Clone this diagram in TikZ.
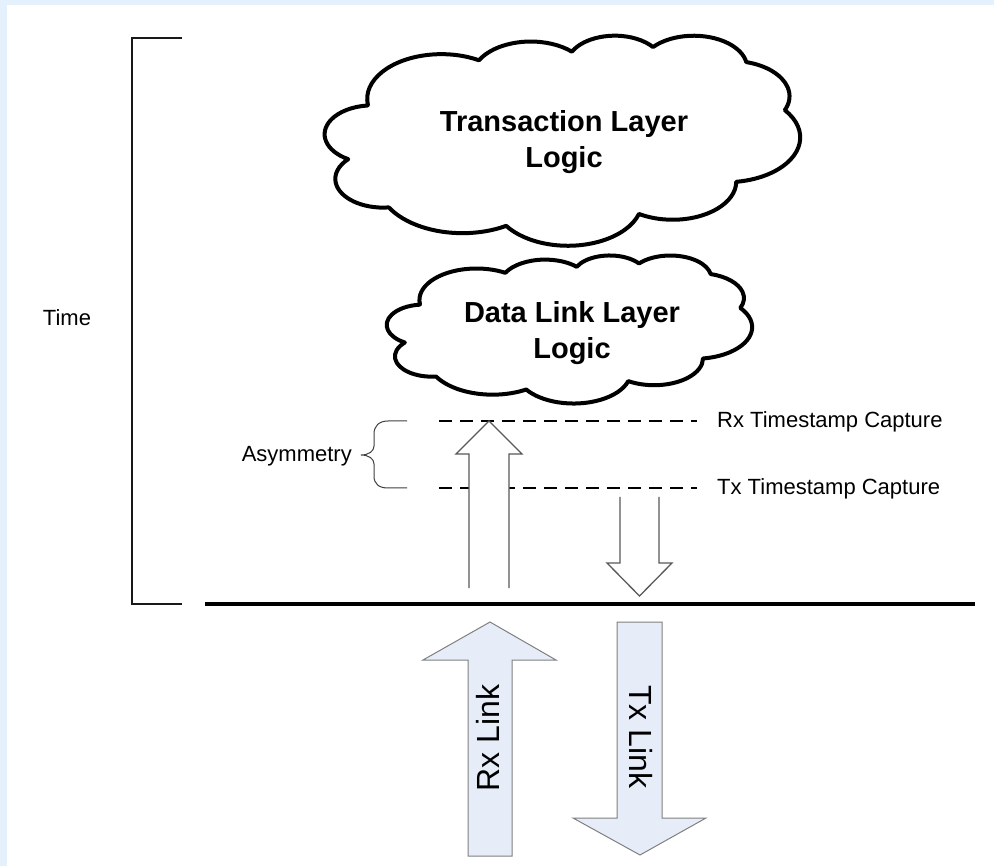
\documentclass[tikz,border=0pt]{standalone}
\usepackage{fontspec}
\setmainfont{Liberation Sans}
\definecolor{bandblue}{HTML}{E4F1FD}
\definecolor{linkfill}{HTML}{E6EDF8}
\newcommand\cldcalc[5]{%
  \pgfmathsetmacro\cldtmpa{atan2((#2)*sin(#4),(#3)*cos(#4))}%
  \pgfmathsetmacro\cldtmpb{atan2((#2)*sin((#4)+(#5)),(#3)*cos((#4)+(#5)))}%
  \pgfmathsetmacro\cldtmpd{mod(\cldtmpb-\cldtmpa+720,360)}%
  \expandafter\xdef\csname cldS#1\endcsname{\cldtmpa}%
  \expandafter\xdef\csname cldD#1\endcsname{\cldtmpd}%
}
\cldcalc{a}{67.53}{91.90}{-190.4875}{123.7805}
\cldcalc{b}{53.33}{72.67}{-144.1024}{89.9452}
\cldcalc{c}{43.65}{59.45}{-145.8079}{99.7230}
\cldcalc{d}{48.57}{65.95}{-130.9861}{117.2417}
\cldcalc{e}{53.33}{72.73}{-78.7089}{109.0269}
\cldcalc{f}{67.75}{92.20}{-46.2673}{130.2690}
\cldcalc{g}{57.85}{78.67}{0.6250}{114.0333}
\cldcalc{h}{67.52}{92.15}{22.4516}{115.1726}
\cldcalc{i}{77.20}{105.43}{66.2426}{75.7110}
\cldcalc{j}{43.60}{59.18}{-274.9421}{146.7356}
\cldcalc{k}{43.45}{59.45}{-246.8285}{152.5189}
\newcommand\drawcloud[4]{% left, top, width, height
  \pgfmathsetmacro\cldw{#3/432}%
  \pgfmathsetmacro\cldh{#4/432}%
  \begin{scope}[shift={(#1,#2)}, x=\cldw pt, y=-\cldh pt]
    \draw[cloudline] (39,143.7)
      arc[start angle=\cldSa, delta angle=\cldDa, x radius=67.53, y radius=91.90]
      arc[start angle=\cldSb, delta angle=\cldDb, x radius=53.33, y radius=72.67]
      arc[start angle=\cldSc, delta angle=\cldDc, x radius=43.65, y radius=59.45]
      arc[start angle=\cldSd, delta angle=\cldDd, x radius=48.57, y radius=65.95]
      arc[start angle=\cldSe, delta angle=\cldDe, x radius=53.33, y radius=72.73]
      arc[start angle=\cldSf, delta angle=\cldDf, x radius=67.75, y radius=92.20]
      arc[start angle=\cldSg, delta angle=\cldDg, x radius=57.85, y radius=78.67]
      arc[start angle=\cldSh, delta angle=\cldDh, x radius=67.52, y radius=92.15]
      arc[start angle=\cldSi, delta angle=\cldDi, x radius=77.20, y radius=105.43]
      arc[start angle=\cldSj, delta angle=\cldDj, x radius=43.60, y radius=59.18]
      arc[start angle=\cldSk, delta angle=\cldDk, x radius=43.45, y radius=59.45]
      -- cycle;
  \end{scope}}
\begin{document}
\begin{tikzpicture}[x=1pt,y=-1pt,
  cloudline/.style={draw=black, line width=4pt, fill=white, line join=round},
  cloudtext/.style={font=\fontsize{29}{36}\selectfont\bfseries, align=center, inner sep=0pt},
  smalltext/.style={font=\fontsize{22}{26}\selectfont, inner sep=0pt},
  linktext/.style={font=\fontsize{32}{38}\selectfont, inner sep=0pt},
  dashline/.style={draw=black, line width=1.5pt, dash pattern=on 13pt off 8pt},
  hollowarrow/.style={draw=black!65, fill=white, line width=1.3pt, line join=miter},
  bigarrow/.style={draw=black!50, fill=linkfill, line width=1pt, line join=miter},
  bracketline/.style={draw=black!90, line width=1.4pt},
  baseline/.style={draw=black, line width=4pt},
  bracestyle/.style={draw=black!75, line width=1pt},
]
\useasboundingbox (0,0) rectangle (994,866);
\fill[white] (0,0) rectangle (994,866);
\fill[bandblue] (0,0) rectangle (994,5);
\fill[bandblue] (0,0) rectangle (7,866);

% time bracket
\coordinate (brtr) at (182,38);
\coordinate (brtl) at (132,38);
\coordinate (brbl) at (132,604);
\coordinate (brbr) at (182,604);
\draw[bracketline] (brtr) -- (brtl) -- (brbl) -- (brbr);
\node[smalltext, anchor=base] (time) at (67,326) {Time};

% link boundary
\coordinate (basel) at (205,604);
\coordinate (baser) at (975,604);
\draw[baseline] (basel) -- (baser);

% clouds
\drawcloud{325}{35}{475}{210}
\node[cloudtext] (tl) at (564,142) {Transaction Layer\\Logic};
\drawcloud{387}{255}{365}{148}
\node[cloudtext] (dl) at (572,333) {Data Link Layer\\Logic};

% timestamp lines
\coordinate (rxl) at (439,421);
\coordinate (rxr) at (697,421);
\coordinate (txl) at (439,488);
\coordinate (txr) at (697,488);
\draw[dashline] (rxl) -- (rxr);
\draw[dashline] (txl) -- (txr);
\node[smalltext, anchor=base west] (rxts) at (717,428) {Rx Timestamp Capture};
\node[smalltext, anchor=base west] (txts) at (717,495) {Tx Timestamp Capture};

% asymmetry brace
\draw[bracestyle] (407,421) -- (388,421) .. controls (379,421) and (374,426) .. (374,434)
  -- (374,446) .. controls (374,451) and (369,455) .. (361,455)
  .. controls (369,455) and (374,459) .. (374,464)
  -- (374,476) .. controls (374,484) and (379,488) .. (388,488) -- (407,488);
\node[smalltext, anchor=base east] (asym) at (352,462) {Asymmetry};

% hollow arrows
\filldraw[hollowarrow] (469,588) -- (469,454) -- (456,454) -- (489,421) -- (522,454) -- (509,454) -- (509,588);
\filldraw[hollowarrow] (620,497) -- (620,563) -- (607,563) -- (639.5,596) -- (672,563) -- (659,563) -- (659,497);

% link arrows
\filldraw[bigarrow] (468,856) -- (468,660) -- (423,660) -- (490,622) -- (556,660) -- (512,660) -- (512,856) -- cycle;
\filldraw[bigarrow] (617,622) -- (662,622) -- (662,818) -- (706,818) -- (640,855) -- (573,818) -- (617,818) -- cycle;
\node[linktext, rotate=90] (rxlink) at (488,738) {Rx Link};
\node[linktext, rotate=-90] (txlink) at (641,737) {Tx Link};
\end{tikzpicture}
\end{document}
